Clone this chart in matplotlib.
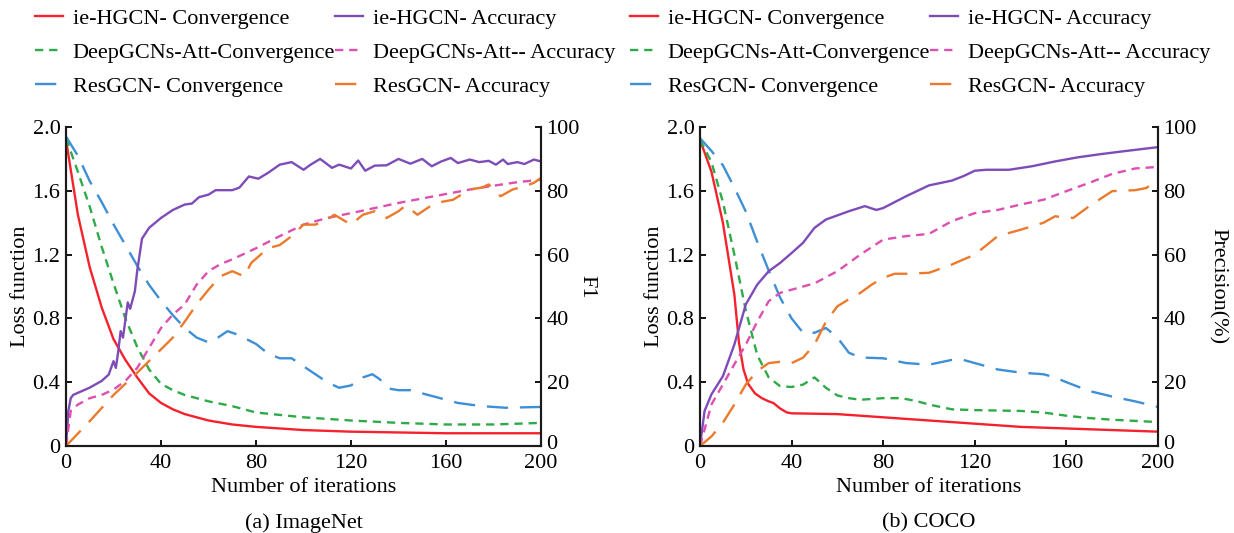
import matplotlib
matplotlib.use("Agg")
import matplotlib.pyplot as plt
from matplotlib.transforms import ScaledTranslation

plt.rcParams['font.family'] = ['Liberation Serif', 'DejaVu Serif']
plt.rcParams['font.size'] = 16

# ---------------- ImageNet (a) ----------------
# convergence (loss function, left axis)
in_hgcn_loss_x = [0, 5, 10, 15, 20, 25, 30, 35, 40, 45, 50, 55, 60, 70, 80, 90, 100, 120, 140, 160, 200]
in_hgcn_loss_y = [1.92, 1.45, 1.12, 0.87, 0.67, 0.54, 0.43, 0.33, 0.27, 0.23, 0.20, 0.18, 0.16, 0.135, 0.12,
                  0.11, 0.10, 0.09, 0.085, 0.08, 0.08]
in_deep_loss_x = [0, 5, 10, 15, 20, 25, 30, 35, 40, 45, 50, 60, 70, 80, 90, 100, 120, 140, 160, 180, 200]
in_deep_loss_y = [1.93, 1.72, 1.50, 1.25, 1.02, 0.80, 0.62, 0.48, 0.39, 0.35, 0.32, 0.28, 0.25, 0.21, 0.195,
                  0.18, 0.16, 0.145, 0.135, 0.135, 0.145]
in_res_loss_x = [0, 5, 10, 15, 20, 25, 30, 35, 40, 45, 50, 55, 60, 64, 68, 72, 80, 85, 90, 95, 100, 105, 110,
                 115, 120, 125, 129, 132, 136, 140, 145, 150, 155, 160, 165, 170, 175, 185, 200]
in_res_loss_y = [1.94, 1.82, 1.66, 1.53, 1.39, 1.26, 1.13, 1.01, 0.91, 0.82, 0.74, 0.68, 0.65, 0.68, 0.72, 0.70,
                 0.64, 0.58, 0.55, 0.55, 0.50, 0.45, 0.40, 0.365, 0.38, 0.43, 0.45, 0.42, 0.36, 0.35, 0.35,
                 0.33, 0.31, 0.29, 0.27, 0.26, 0.25, 0.24, 0.245]
# accuracy (F1, right axis)
in_hgcn_acc_x = [0, 1, 2, 3, 6, 10, 15, 18, 20, 21, 22, 23, 24, 26, 27, 29, 30, 32, 35, 40, 45, 50, 53, 56, 60,
                 63, 70, 73, 77, 81, 85, 90, 95, 100, 103, 107, 112, 115, 120, 123, 126, 130, 135, 140, 145,
                 150, 154, 158, 162, 165, 170, 174, 178, 181, 184, 186, 190, 193, 197, 200]
in_hgcn_acc_y = [0, 11, 15, 16, 17, 18.3, 20.4, 22.4, 26.6, 24.5, 29.7, 36, 34, 45, 43, 48.5, 55, 65, 68.4,
                 71.5, 74, 75.7, 76, 78, 78.8, 80.2, 80.2, 81, 84.5, 83.8, 85.6, 88.2, 89, 86.6, 88.2, 90,
                 87.2, 88.2, 87, 89.5, 86.3, 87.9, 88, 90, 88.5, 90, 87.7, 89.2, 90.3, 88.7, 89.8, 89, 89.4,
                 88.2, 89.8, 88.4, 89, 88.4, 89.8, 89.2]
in_deep_acc_x = [0, 2, 5, 10, 15, 20, 25, 30, 35, 40, 45, 50, 55, 60, 65, 70, 80, 90, 100, 110, 120, 130,
                 140, 150, 160, 170, 180, 190, 200]
in_deep_acc_y = [0, 11, 13, 15, 16, 17.7, 20.4, 24.5, 30.8, 37, 41.2, 44.4, 50.6, 54.8, 57, 58.5, 62, 65.8,
                 69.4, 71.5, 73, 74.6, 76.2, 77.6, 79, 80.4, 81.6, 82.7, 83.5]
in_res_acc_x = [0, 10, 20, 30, 40, 45, 50, 55, 60, 65, 70, 75, 78, 85, 90, 95, 100, 105, 110, 113, 120, 125,
                130, 135, 140, 143, 148, 153, 158, 163, 170, 175, 178, 183, 188, 193, 197, 200]
in_res_acc_y = [0, 7.8, 16, 23, 30.3, 34, 39, 44.4, 49, 53.2, 54.8, 53.2, 57.4, 62, 63, 65.8, 69.4, 69.4,
                71, 72.5, 69.4, 72.5, 73.6, 71.5, 73.6, 75.4, 72.5, 75, 76.5, 77.2, 80.4, 81, 82, 78.3,
                80.4, 81.4, 82.5, 84]

# ---------------- COCO (b) ----------------
co_hgcn_loss_x = [0, 5, 10, 15, 17, 19, 21, 24, 27, 30, 32, 35, 38, 40, 60, 80, 100, 120, 140, 160, 180, 200]
co_hgcn_loss_y = [1.92, 1.72, 1.40, 0.95, 0.65, 0.48, 0.39, 0.33, 0.30, 0.28, 0.27, 0.235, 0.21, 0.205, 0.20,
                  0.18, 0.16, 0.14, 0.12, 0.11, 0.10, 0.09]
co_deep_loss_x = [0, 5, 10, 15, 20, 25, 30, 35, 40, 45, 50, 55, 60, 65, 70, 80, 88, 95, 100, 110, 120, 140,
                  150, 160, 170, 180, 200]
co_deep_loss_y = [1.92, 1.78, 1.53, 1.20, 0.85, 0.57, 0.43, 0.375, 0.37, 0.385, 0.43, 0.365, 0.317, 0.30,
                  0.29, 0.30, 0.30, 0.28, 0.26, 0.23, 0.225, 0.22, 0.21, 0.19, 0.175, 0.165, 0.15]
co_res_loss_x = [0, 5, 10, 15, 20, 25, 30, 35, 40, 45, 50, 55, 60, 65, 70, 80, 90, 100, 110, 115, 120, 130,
                 140, 150, 155, 160, 170, 180, 190, 200]
co_res_loss_y = [1.93, 1.85, 1.76, 1.62, 1.47, 1.28, 1.10, 0.93, 0.80, 0.71, 0.71, 0.74, 0.68, 0.585, 0.555,
                 0.55, 0.52, 0.51, 0.54, 0.54, 0.52, 0.48, 0.46, 0.45, 0.43, 0.40, 0.345, 0.31, 0.28, 0.245]
co_hgcn_acc_x = [0, 2, 5, 10, 15, 20, 25, 30, 35, 40, 45, 50, 55, 60, 65, 72, 77, 80, 90, 100, 110, 115, 120,
                 125, 135, 145, 155, 165, 175, 185, 200]
co_hgcn_acc_y = [0, 11, 16.2, 21.9, 31.8, 44.4, 50.6, 54.8, 57.4, 60.5, 63.7, 68.4, 71, 72.3, 73.6, 75.2, 74,
                 74.6, 78.3, 81.7, 83.2, 84.6, 86.3, 86.6, 86.6, 87.7, 89.2, 90.5, 91.5, 92.4, 93.7]
co_deep_acc_x = [0, 5, 10, 15, 20, 25, 30, 35, 40, 50, 60, 70, 80, 90, 100, 110, 120, 130, 140, 150, 160,
                 170, 180, 190, 200]
co_deep_acc_y = [0, 13, 19.3, 25.6, 31.8, 39, 45.4, 48, 49, 51, 54.8, 60, 64.7, 65.8, 66.5, 70.5, 73, 74,
                 75.7, 77.2, 79.9, 82.5, 85.3, 87, 87.5]
co_res_acc_x = [0, 5, 10, 15, 20, 25, 30, 35, 40, 45, 50, 55, 60, 65, 70, 75, 80, 85, 90, 100, 110, 120, 130,
                140, 150, 155, 163, 170, 180, 190, 195, 200]
co_res_acc_y = [0, 3, 7.3, 13, 19.3, 23.5, 26, 26.4, 26, 27.7, 31.8, 39, 43.8, 46, 48, 50.6, 52.7, 54, 54,
                54.3, 56.9, 60, 65.8, 67.8, 70, 72, 71.5, 75.2, 79.9, 80.2, 80.9, 84]

conv_labels = ['ie-HGCN- Convergence', 'DeepGCNs-Att-Convergence', 'ResGCN- Convergence']
acc_labels = ['ie-HGCN- Accuracy', 'DeepGCNs-Att-- Accuracy', 'ResGCN- Accuracy']

RED, GREEN, BLUE = '#f5222d', '#2eaa48', '#3d8fd6'
PURPLE, PINK, ORANGE = '#7d4cb8', '#dd4fb0', '#ec7a2c'
short_dash = (3.5, 2.5)
long_dash = (9, 5)

fig = plt.figure(figsize=(12.34, 5.33), dpi=100)


def panel(left, width, loss, acc, right_label, right_pad, title):
    ax = fig.add_axes([left, 0.1632, width, 0.5985])
    ax2 = ax.twinx()
    (hx, hy), (dx, dy), (rx, ry) = loss
    (ahx, ahy), (adx, ady), (arx, ary) = acc
    l1, = ax.plot(hx, hy, color=RED, lw=1.7)
    l2, = ax.plot(dx, dy, color=GREEN, lw=1.7, dashes=short_dash)
    l3, = ax.plot(rx, ry, color=BLUE, lw=1.7, dashes=long_dash)
    a1, = ax2.plot(ahx, ahy, color=PURPLE, lw=1.7)
    a2, = ax2.plot(adx, ady, color=PINK, lw=1.7, dashes=short_dash)
    a3, = ax2.plot(arx, ary, color=ORANGE, lw=1.7, dashes=long_dash)

    ax.set_xlim(0, 200)
    ax.set_ylim(0, 2.0)
    ax2.set_ylim(0, 100)
    ax.set_xticks(range(0, 201, 40))
    ax.set_yticks([0, 0.4, 0.8, 1.2, 1.6, 2.0])
    ax.set_yticklabels(['0', '0.4', '0.8', '1.2', '1.6', '2.0'])
    ax2.set_yticks(range(0, 101, 20))
    for a in (ax, ax2):
        a.spines['top'].set_visible(False)
        for s in a.spines.values():
            s.set_linewidth(1.5)
            s.set_color('#1a1a1a')
        a.tick_params(direction='in', length=4, width=1.3, labelsize=16, pad=4)
    ax.tick_params(axis='x', pad=6)
    # lift the right-hand "0" a little so it clears the "200" below it
    zero = ax2.get_yticklabels()[0]
    zero.set_transform(zero.get_transform() + ScaledTranslation(0, 4 / 100, fig.dpi_scale_trans))
    ax.set_xlabel('Number of iterations', fontsize=16, labelpad=3)
    ax.set_ylabel('Loss function', fontsize=16, labelpad=2)
    ax2.set_ylabel(right_label, fontsize=16, rotation=270, labelpad=right_pad)
    ax.text(0.5, -0.242, title, transform=ax.transAxes, ha='center', va='center', fontsize=16)
    return [l1, l2, l3], [a1, a2, a3]


h_a = panel(66 / 1234, 475 / 1234,
            [(in_hgcn_loss_x, in_hgcn_loss_y), (in_deep_loss_x, in_deep_loss_y), (in_res_loss_x, in_res_loss_y)],
            [(in_hgcn_acc_x, in_hgcn_acc_y), (in_deep_acc_x, in_deep_acc_y), (in_res_acc_x, in_res_acc_y)],
            'F1', 12, '(a) ImageNet')
h_b = panel(700 / 1234, 458 / 1234,
            [(co_hgcn_loss_x, co_hgcn_loss_y), (co_deep_loss_x, co_deep_loss_y), (co_res_loss_x, co_res_loss_y)],
            [(co_hgcn_acc_x, co_hgcn_acc_y), (co_deep_acc_x, co_deep_acc_y), (co_res_acc_x, co_res_acc_y)],
            'Precision(%)', 22, '(b) COCO')

# legends: one column each, convergence and accuracy for both panels
for (conv_h, acc_h), x0 in ((h_a, 35), (h_b, 630)):
    for handles, labels, xx in ((conv_h, conv_labels, x0), (acc_h, acc_labels, x0 + 300)):
        fig.legend(handles, labels, loc='upper left', bbox_to_anchor=(xx / 1234, 1 - 8 / 533),
                   frameon=False, fontsize=16, handlelength=1.25, handletextpad=0.45,
                   labelspacing=0.62, borderpad=0, borderaxespad=0)

fig.savefig('out.png', dpi=100)
